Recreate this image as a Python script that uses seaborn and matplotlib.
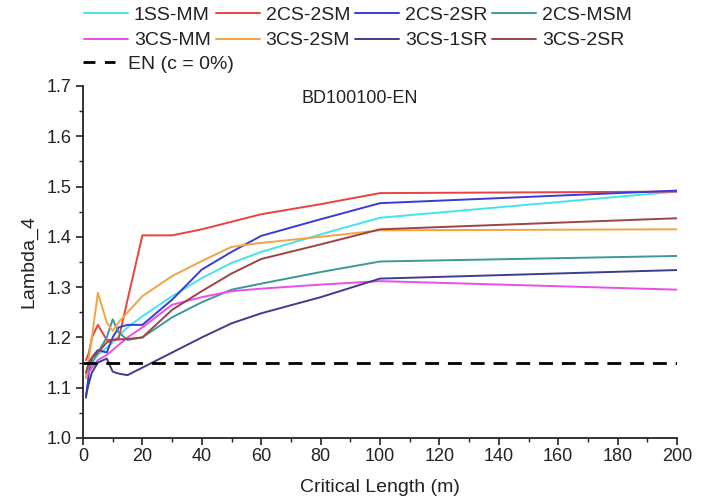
import matplotlib
matplotlib.use("Agg")
import matplotlib.pyplot as plt
import seaborn as sns
import pandas as pd
from matplotlib.ticker import MultipleLocator, FormatStrFormatter
from matplotlib.lines import Line2D

x_len = [1, 2, 3, 5, 8, 10, 12, 15, 20, 30, 40, 50, 60, 80, 100, 200]

s_1SS_MM  = [1.130, 1.140, 1.150, 1.165, 1.180, 1.190, 1.203, 1.220, 1.242, 1.282, 1.318, 1.348, 1.370, 1.405, 1.438, 1.490]
s_2CS_2SM = [1.155, 1.170, 1.200, 1.225, 1.195, 1.195, 1.197, 1.275, 1.403, 1.403, 1.415, 1.430, 1.445, 1.465, 1.487, 1.490]
s_2CS_2SR = [1.080, 1.130, 1.160, 1.175, 1.170, 1.200, 1.220, 1.225, 1.225, 1.275, 1.335, 1.370, 1.402, 1.435, 1.467, 1.492]
s_2CS_MSM = [1.120, 1.140, 1.150, 1.170, 1.200, 1.236, 1.210, 1.195, 1.200, 1.240, 1.270, 1.295, 1.307, 1.330, 1.351, 1.362]
s_3CS_MM  = [1.120, 1.130, 1.140, 1.155, 1.165, 1.175, 1.185, 1.200, 1.220, 1.265, 1.280, 1.292, 1.297, 1.305, 1.312, 1.295]
s_3CS_2SM = [1.120, 1.160, 1.200, 1.289, 1.230, 1.213, 1.230, 1.250, 1.282, 1.322, 1.352, 1.380, 1.388, 1.400, 1.413, 1.415]
s_3CS_1SR = [1.085, 1.110, 1.130, 1.150, 1.158, 1.132, 1.128, 1.125, 1.140, 1.170, 1.200, 1.228, 1.248, 1.280, 1.317, 1.334]
s_3CS_2SR = [1.130, 1.150, 1.160, 1.170, 1.190, 1.195, 1.196, 1.197, 1.200, 1.255, 1.292, 1.327, 1.356, 1.385, 1.415, 1.437]

en_value = 1.15

series_names = ["1SS-MM", "2CS-2SM", "2CS-2SR", "2CS-MSM",
                "3CS-MM", "3CS-2SM", "3CS-1SR", "3CS-2SR"]
series_vals = [s_1SS_MM, s_2CS_2SM, s_2CS_2SR, s_2CS_MSM,
               s_3CS_MM, s_3CS_2SM, s_3CS_1SR, s_3CS_2SR]
colors = ["#45e3ea", "#e8433f", "#3a3ad8", "#3d9898",
          "#e84fe8", "#f2a444", "#3d3d8e", "#9c4444"]

rows = []
for name, vals in zip(series_names, series_vals):
    for xv, yv in zip(x_len, vals):
        rows.append({"x": xv, "y": yv, "series": name})
df = pd.DataFrame(rows)

sns.set_style("ticks")
plt.rcParams['font.family'] = ['Liberation Sans', 'DejaVu Sans']

fig = plt.figure(figsize=(7.05, 5.04), dpi=100)
ax = fig.add_axes([83 / 705, 66 / 504, 594 / 705, 352 / 504])

sns.lineplot(data=df, x="x", y="y", hue="series", hue_order=series_names,
             palette=dict(zip(series_names, colors)), linewidth=1.4,
             legend=False, ax=ax, estimator=None)
ax.axhline(en_value, color="black", linestyle=(0, (5, 3.2)), linewidth=2.0)

ax.set_xlim(0, 200)
ax.set_ylim(1.0, 1.7)
ax.xaxis.set_major_locator(MultipleLocator(20))
ax.xaxis.set_minor_locator(MultipleLocator(10))
ax.yaxis.set_major_locator(MultipleLocator(0.1))
ax.yaxis.set_minor_locator(MultipleLocator(0.05))
ax.tick_params(which="major", length=5, width=1.2, labelsize=13, direction="out",
               color="#222222", labelcolor="#222222")
ax.tick_params(axis="x", which="major", pad=2)
ax.tick_params(which="minor", length=3, width=1.0, direction="out", color="#222222")
ax.yaxis.set_major_formatter(FormatStrFormatter("%.1f"))
for s in ["top", "right"]:
    ax.spines[s].set_visible(False)
for s in ["left", "bottom"]:
    ax.spines[s].set_linewidth(1.3)
    ax.spines[s].set_color("#222222")

ax.set_xlabel("Critical Length (m)", fontsize=14, labelpad=10, color="#222222")
ax.set_ylabel("Lambda_4", fontsize=14, labelpad=6, color="#222222")
ax.text(0.466, 0.964, "BD100100-EN", transform=ax.transAxes, ha="center",
        va="center", fontsize=13, color="#222222")

handles = {n: Line2D([], [], color=c, linewidth=1.4) for n, c in zip(series_names, colors)}
order = ["1SS-MM", "3CS-MM", "2CS-2SM", "3CS-2SM",
         "2CS-2SR", "3CS-1SR", "2CS-MSM", "3CS-2SR"]
leg1 = fig.legend([handles[n] for n in order], order, ncol=4, frameon=False,
                  loc="upper left", bbox_to_anchor=(84 / 705, 1 - 6 / 504),
                  fontsize=14, handlelength=2.27, handletextpad=0.3,
                  columnspacing=0.25, labelspacing=0.42, borderpad=0,
                  borderaxespad=0, labelcolor="#222222")
en_h = Line2D([], [], color="black", linestyle=(0, (4.3, 3.4)), linewidth=2.0)
leg2 = fig.legend([en_h], ["EN (c = 0%)"], frameon=False, loc="upper left",
                  bbox_to_anchor=(83 / 705, 1 - 55 / 504), fontsize=14,
                  handlelength=1.65, handletextpad=0.65, borderpad=0,
                  borderaxespad=0, labelcolor="#222222")

fig.savefig("out.png", dpi=100)
